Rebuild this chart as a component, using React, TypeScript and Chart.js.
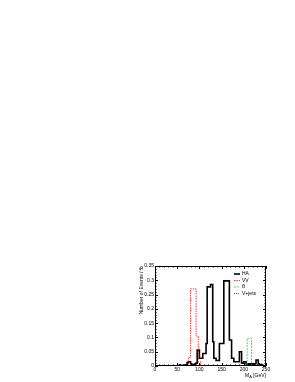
import React, { useEffect, useRef } from "react";
import { Chart, registerables } from "chart.js";
Chart.register(...registerables);

// Histogram bins (lower edges, GeV), width 2.5 GeV, range 0-250
const binLow = [
  0, 2.5, 5, 7.5, 10, 12.5, 15, 17.5, 20, 22.5,
  25, 27.5, 30, 32.5, 35, 37.5, 40, 42.5, 45, 47.5,
  50, 52.5, 55, 57.5, 60, 62.5, 65, 67.5, 70, 72.5,
  75, 77.5, 80, 82.5, 85, 87.5, 90, 92.5, 95, 97.5,
  100, 102.5, 105, 107.5, 110, 112.5, 115, 117.5, 120, 122.5,
  125, 127.5, 130, 132.5, 135, 137.5, 140, 142.5, 145, 147.5,
  150, 152.5, 155, 157.5, 160, 162.5, 165, 167.5, 170, 172.5,
  175, 177.5, 180, 182.5, 185, 187.5, 190, 192.5, 195, 197.5,
  200, 202.5, 205, 207.5, 210, 212.5, 215, 217.5, 220, 222.5,
  225, 227.5, 230, 232.5, 235, 237.5, 240, 242.5, 245, 247.5,
];
const xMax = 250;

const haValues = [
  0, 0, 0, 0, 0, 0, 0, 0, 0, 0,
  0, 0, 0, 0, 0, 0, 0, 0, 0, 0,
  0, 0, 0, 0.004, 0, 0, 0, 0.003, 0.003, 0.005,
  0.012, 0.015, 0.015, 0.008, 0.005, 0.005, 0.005, 0.008, 0.01, 0.056,
  0.056, 0.027, 0.027, 0.027, 0.044, 0.044, 0.044, 0.079, 0.277, 0.277,
  0.277, 0.285, 0.285, 0.085, 0.027, 0.027, 0.019, 0.019, 0.019, 0.079,
  0.079, 0.079, 0.079, 0.298, 0.298, 0.298, 0.298, 0.298, 0.091, 0.091,
  0.027, 0.027, 0.015, 0.015, 0.015, 0.015, 0.015, 0.05, 0.05, 0.01,
  0.01, 0.015, 0.015, 0.008, 0.005, 0.008, 0.005, 0.008, 0.005, 0.008,
  0.005, 0.008, 0.021, 0.021, 0.008, 0.005, 0.005, 0.003, 0, 0,
];
const vvValues = [
  0, 0, 0, 0, 0, 0, 0, 0, 0, 0,
  0, 0, 0, 0, 0, 0, 0, 0, 0, 0,
  0, 0, 0, 0, 0, 0, 0, 0, 0, 0,
  0, 0.03, 0.03, 0.27, 0.27, 0.27, 0.27, 0.27, 0.105, 0.105,
  0.015, 0.015, 0, 0, 0, 0, 0, 0, 0, 0,
  0, 0, 0, 0, 0, 0, 0, 0, 0, 0,
  0, 0, 0, 0, 0, 0, 0, 0, 0, 0,
  0, 0, 0, 0, 0, 0, 0, 0, 0, 0,
  0, 0, 0, 0, 0, 0, 0, 0, 0, 0,
  0, 0, 0, 0, 0, 0, 0, 0, 0, 0,
];
const ttValues = [
  0, 0, 0, 0, 0, 0, 0, 0, 0, 0,
  0, 0, 0, 0, 0, 0, 0, 0, 0, 0,
  0, 0, 0, 0, 0, 0, 0, 0, 0, 0,
  0, 0, 0, 0, 0, 0, 0, 0, 0, 0,
  0, 0, 0, 0, 0, 0, 0, 0, 0, 0,
  0, 0, 0, 0, 0, 0, 0, 0, 0, 0,
  0, 0, 0, 0, 0, 0, 0, 0, 0, 0,
  0, 0, 0, 0, 0, 0, 0, 0, 0, 0,
  0, 0, 0, 0, 0.097, 0.097, 0.097, 0.097, 0, 0,
  0, 0, 0, 0, 0, 0, 0, 0, 0, 0,
];
const vjetsValues = [
  0, 0, 0, 0, 0, 0, 0, 0, 0, 0,
  0, 0, 0, 0, 0, 0, 0, 0, 0, 0,
  0, 0, 0, 0, 0, 0, 0, 0, 0, 0,
  0, 0, 0, 0, 0, 0, 0, 0, 0, 0,
  0, 0, 0, 0, 0, 0, 0, 0, 0, 0,
  0, 0, 0, 0, 0, 0, 0, 0, 0, 0,
  0, 0, 0, 0, 0, 0, 0, 0, 0, 0,
  0, 0, 0, 0, 0, 0, 0, 0, 0, 0,
  0, 0, 0, 0, 0, 0, 0, 0, 0, 0,
  0, 0, 0, 0, 0, 0, 0, 0, 0, 0,
];

const xTicks = [0, 50, 100, 150, 200, 250];
const yTicks = [0, 0.05, 0.1, 0.15, 0.2, 0.25, 0.3, 0.35];
const seriesNames = ["HA", "VV", "t\u0074\u0304", "V+jets"];
const yTitle = "Number of Events / fb";
const xTitleMain = "M";
const xTitleSub = "A";
const xTitleUnit = " [GeV]";

function steps(values: number[]) {
  const pts = binLow.map((x, i) => ({ x, y: values[i] }));
  pts.push({ x: xMax, y: values[values.length - 1] });
  return pts;
}

const FONT = "'Liberation Sans', Arial, sans-serif";

const frame = {
  id: "rootFrame",
  afterDatasetsDraw(chart: any) {
    const { ctx, chartArea: a, scales } = chart;
    const xs = scales.x;
    const ys = scales.y;
    ctx.save();
    ctx.strokeStyle = "#000";
    ctx.lineWidth = 1;
    ctx.strokeRect(a.left + 0.5, a.top + 0.5, a.right - a.left - 1, a.bottom - a.top - 1);
    for (let v = 0; v <= xMax; v += 10) {
      const px = Math.round(xs.getPixelForValue(v)) + 0.5;
      const len = v % 50 === 0 ? 3 : 1.5;
      ctx.beginPath();
      ctx.moveTo(px, a.bottom);
      ctx.lineTo(px, a.bottom - len);
      ctx.moveTo(px, a.top);
      ctx.lineTo(px, a.top + len);
      ctx.stroke();
    }
    for (let k = 0; k <= 35; k++) {
      const v = k * 0.01;
      const py = Math.round(ys.getPixelForValue(v)) + 0.5;
      const len = k % 5 === 0 ? 3 : 1.5;
      ctx.beginPath();
      ctx.moveTo(a.left, py);
      ctx.lineTo(a.left + len, py);
      ctx.moveTo(a.right, py);
      ctx.lineTo(a.right - len, py);
      ctx.stroke();
    }
    // legend
    const styles = chart.data.datasets;
    const lx0 = a.right - 32;
    const lx1 = a.right - 26;
    const rowY = [a.top + 8, a.top + 14.5, a.top + 21, a.top + 27.5];
    ctx.font = `5px ${FONT}`;
    ctx.textBaseline = "middle";
    ctx.textAlign = "left";
    styles.forEach((ds: any, i: number) => {
      ctx.beginPath();
      ctx.strokeStyle = ds.borderColor;
      ctx.lineWidth = ds.borderWidth;
      ctx.setLineDash(ds.borderDash || []);
      ctx.moveTo(lx0, rowY[i]);
      ctx.lineTo(lx1, rowY[i]);
      ctx.stroke();
      ctx.setLineDash([]);
      ctx.fillStyle = "#000";
      ctx.fillText(seriesNames[i], lx1 + 2, rowY[i]);
    });
    // y title
    ctx.save();
    ctx.translate(a.left - 13, a.top);
    ctx.rotate(-Math.PI / 2);
    ctx.font = `5px ${FONT}`;
    ctx.textAlign = "right";
    ctx.textBaseline = "middle";
    ctx.fillStyle = "#000";
    ctx.fillText(yTitle, 0, 0);
    ctx.restore();
    // x title
    ctx.font = `5px ${FONT}`;
    ctx.textBaseline = "alphabetic";
    ctx.textAlign = "left";
    ctx.fillStyle = "#000";
    const wM = ctx.measureText(xTitleMain).width;
    ctx.font = `4px ${FONT}`;
    const wS = ctx.measureText(xTitleSub).width;
    ctx.font = `5px ${FONT}`;
    const wU = ctx.measureText(xTitleUnit).width;
    const total = wM + wS + wU;
    let tx = a.right - total;
    const ty = a.bottom + 10.5;
    ctx.fillText(xTitleMain, tx, ty);
    tx += wM;
    ctx.font = `4px ${FONT}`;
    ctx.fillText(xTitleSub, tx, ty + 1);
    tx += wS;
    ctx.font = `5px ${FONT}`;
    ctx.fillText(xTitleUnit, tx, ty);
    ctx.restore();
  },
};

export default function App() {
  const ref = useRef<HTMLCanvasElement | null>(null);
  useEffect(() => {
    if (!ref.current) return;
    const chart = new Chart(ref.current, {
      type: "line",
      data: {
        datasets: [
          {
            label: seriesNames[0],
            data: steps(haValues),
            borderColor: "#000000",
            borderWidth: 1.6,
            stepped: "after",
            pointRadius: 0,
            fill: false,
            order: 3,
          },
          {
            label: seriesNames[1],
            data: steps(vvValues),
            borderColor: "#ff0000",
            borderWidth: 0.8,
            borderDash: [1.5, 1],
            stepped: "after",
            pointRadius: 0,
            fill: false,
            order: 1,
          },
          {
            label: seriesNames[2],
            data: steps(ttValues),
            borderColor: "#33cc33",
            borderWidth: 0.8,
            borderDash: [2, 1],
            stepped: "after",
            pointRadius: 0,
            fill: false,
            order: 0,
          },
          {
            label: seriesNames[3],
            data: steps(vjetsValues),
            borderColor: "#0000ff",
            borderWidth: 0.8,
            borderDash: [1, 1],
            stepped: "after",
            pointRadius: 0,
            fill: false,
            order: 2,
          },
        ] as any,
      },
      options: {
        animation: false,
        responsive: false,
        maintainAspectRatio: false,
        layout: { padding: { left: 137, top: 266, right: 29, bottom: 0 } },
        plugins: { legend: { display: false }, tooltip: { enabled: false } },
        scales: {
          x: {
            type: "linear",
            min: 0,
            max: xMax,
            afterFit: (s: any) => {
              s.height = 16;
            },
            afterBuildTicks: (s: any) => {
              s.ticks = xTicks.map((v) => ({ value: v }));
            },
            grid: { display: false, drawTicks: false, tickLength: 0 },
            border: { display: false },
            ticks: {
              font: { size: 5, family: FONT },
              color: "#000",
              padding: 1,
              maxRotation: 0,
              autoSkip: false,
            },
          },
          y: {
            type: "linear",
            min: 0,
            max: 0.35,
            afterFit: (s: any) => {
              s.width = 18;
            },
            afterBuildTicks: (s: any) => {
              s.ticks = yTicks.map((v) => ({ value: v }));
            },
            grid: { display: false, drawTicks: false, tickLength: 0 },
            border: { display: false },
            ticks: {
              font: { size: 5, family: FONT },
              color: "#000",
              padding: 1,
              autoSkip: false,
              callback: (v: any) => String(Math.round(Number(v) * 100) / 100),
            },
          },
        },
      },
      plugins: [frame],
    });
    return () => chart.destroy();
  }, []);
  return (
    <canvas
      ref={ref}
      width={295}
      height={382}
      style={{ position: "fixed", left: 0, top: 0, width: 295, height: 382, display: "block" }}
    />
  );
}
